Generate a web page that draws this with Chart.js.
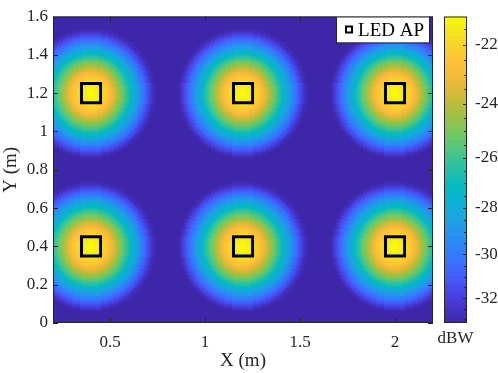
<!DOCTYPE html>
<html><head><meta charset="utf-8">
<script src="https://cdn.jsdelivr.net/npm/chart.js@4.4.1/dist/chart.umd.min.js"></script>
<style>html,body{margin:0;padding:0;background:#fff;}#wrap{width:498px;height:373px;}</style>
</head><body><div id="wrap"><canvas id="c" width="498" height="373"></canvas></div>
<script>
// ---- data ----
const apX = [0.4, 1.2, 2.0];          // LED AP x positions (m)
const apY = [0.4, 1.2];               // LED AP y positions (m)
const profileStep = 0.01;             // m between profile samples
// received power (dBW) vs distance from the nearest AP, 0 .. 0.34 m
const profileDbw = [-21.15,-21.17,-21.22,-21.30,-21.42,-21.57,-21.75,-21.96,-22.20,-22.47,
  -22.76,-23.08,-23.42,-23.78,-24.16,-24.56,-24.97,-25.39,-25.82,-26.26,
  -26.70,-27.15,-27.60,-28.06,-28.52,-28.98,-29.45,-29.92,-30.40,-30.88,
  -31.37,-31.86,-32.35,-32.85,-33.20];
const floorDbw = -33.2;
const xRange = [0.2, 2.2];
const yRange = [0, 1.6];
const gridStep = 0.01;
const xTicks = [0.5, 1, 1.5, 2];
const yTicks = [0, 0.2, 0.4, 0.6, 0.8, 1, 1.2, 1.4, 1.6];
const cbTicks = [-32, -30, -28, -26, -24, -22];
const cbMinor = [-33,-32.5,-31.5,-31,-30.5,-29.5,-29,-28.5,-27.5,-27,-26.5,-25.5,-25,-24.5,-23.5,-23,-22.5,-21.5];
const cbMin = -33.2, cbMax = -21.1;
const legendLabel = 'LED AP';
const cbUnit = 'dBW';
const xTitle = 'X (m)', yTitle = 'Y (m)';

// parula-like colormap stops
const parulaStops = [
 [0.00,62,38,168],[0.05,69,52,201],[0.10,71,70,231],[0.15,68,92,249],[0.20,58,113,254],
 [0.25,45,133,247],[0.30,36,150,235],[0.35,27,165,224],[0.40,10,178,210],[0.45,6,186,191],
 [0.50,36,192,167],[0.55,67,197,139],[0.60,102,200,108],[0.65,140,196,80],[0.70,176,190,60],
 [0.75,212,186,55],[0.80,242,185,60],[0.85,254,192,55],[0.90,250,208,44],[0.95,245,228,30],
 [1.00,249,251,14]];
function parula(t){
  t = Math.max(0, Math.min(1, t));
  for (let i = 1; i < parulaStops.length; i++){
    const a = parulaStops[i-1], b = parulaStops[i];
    if (t <= b[0]){
      const f = (t - a[0]) / (b[0] - a[0]);
      return 'rgb(' + [1,2,3].map(k => Math.round(a[k] + f*(b[k]-a[k]))).join(',') + ')';
    }
  }
  const l = parulaStops[parulaStops.length-1];
  return 'rgb(' + l[1] + ',' + l[2] + ',' + l[3] + ')';
}
// colour axis is logarithmic in |dBW|
const cbU = v => -Math.log(-v);
function colorOf(v){
  return parula((cbU(v) - cbU(cbMin)) / (cbU(cbMax) - cbU(cbMin)));
}

const apPoints = [];
apY.forEach(y => apX.forEach(x => apPoints.push({x, y})));

const heatPoints = [], heatColors = [];
const nx = Math.round((xRange[1]-xRange[0])/gridStep), ny = Math.round((yRange[1]-yRange[0])/gridStep);
for (let j = 0; j <= ny; j++){
  for (let i = 0; i <= nx; i++){
    const x = xRange[0] + i*gridStep, y = yRange[0] + j*gridStep;
    let d = Infinity;
    for (const p of apPoints) d = Math.min(d, Math.hypot(x-p.x, y-p.y));
    const k = Math.round(d / profileStep);
    const v = k < profileDbw.length ? profileDbw[k] : floorDbw;
    if (v <= floorDbw) continue;
    heatPoints.push({x, y}); heatColors.push(colorOf(v));
  }
}

const FONT = "'Liberation Serif','Times New Roman',serif";
const INK = '#262626';

const framePlugin = {
  id: 'frame',
  beforeDatasetsDraw(chart){
    const {ctx, chartArea: a} = chart;
    ctx.save();
    ctx.fillStyle = colorOf(floorDbw);
    ctx.fillRect(a.left, a.top, a.right - a.left, a.bottom - a.top);
    ctx.restore();
  },
  afterDraw(chart){
    const {ctx, chartArea: a, scales} = chart;
    ctx.save();
    ctx.strokeStyle = INK; ctx.lineWidth = 1;
    // axes box
    ctx.strokeRect(a.left + 0.5, a.top + 0.5, a.right - a.left - 1, a.bottom - a.top - 1);
    // inward tick marks
    const tl = 5;
    ctx.beginPath();
    scales.x.ticks.forEach(t => {
      const px = Math.round(scales.x.getPixelForValue(t.value)) + 0.5;
      ctx.moveTo(px, a.bottom); ctx.lineTo(px, a.bottom - tl);
      ctx.moveTo(px, a.top); ctx.lineTo(px, a.top + tl);
    });
    scales.y.ticks.forEach(t => {
      const py = Math.round(scales.y.getPixelForValue(t.value)) + 0.5;
      ctx.moveTo(a.left, py); ctx.lineTo(a.left + tl, py);
      ctx.moveTo(a.right, py); ctx.lineTo(a.right - tl, py);
    });
    ctx.stroke();

    // colorbar
    const cb = scales.cb;
    const cbL = a.right + 11, cbW = 23;
    const top = cb.getPixelForValue(cbU(cbMax)), bot = cb.getPixelForValue(cbU(cbMin));
    const g = ctx.createLinearGradient(0, bot, 0, top);
    parulaStops.forEach(s => g.addColorStop(s[0], 'rgb(' + s[1] + ',' + s[2] + ',' + s[3] + ')'));
    ctx.fillStyle = g;
    ctx.fillRect(cbL, top, cbW, bot - top);
    ctx.strokeStyle = INK;
    ctx.strokeRect(cbL + 0.5, top + 0.5, cbW - 1, bot - top - 1);
    ctx.beginPath();
    cbTicks.forEach(v => {
      const py = Math.round(cb.getPixelForValue(cbU(v))) + 0.5;
      ctx.moveTo(cbL + cbW, py); ctx.lineTo(cbL + cbW - 4, py);
    });
    cbMinor.forEach(v => {
      const py = Math.round(cb.getPixelForValue(cbU(v))) + 0.5;
      ctx.moveTo(cbL + cbW, py); ctx.lineTo(cbL + cbW - 3, py);
    });
    ctx.stroke();
    ctx.fillStyle = INK;
    ctx.font = '17px ' + FONT;
    ctx.textAlign = 'center'; ctx.textBaseline = 'middle';
    ctx.fillText(cbUnit, cbL + cbW/2, a.bottom + 16);

    // legend
    ctx.font = '19px ' + FONT;
    const tw = ctx.measureText(legendLabel).width;
    const bw = tw + 27, bh = 26;
    const bx = a.right - 4 - bw, by = a.top;
    ctx.fillStyle = '#fff';
    ctx.fillRect(bx, by, bw, bh);
    ctx.strokeStyle = INK; ctx.lineWidth = 1;
    ctx.strokeRect(Math.round(bx) + 0.5, by + 0.5, Math.round(bw), bh);
    ctx.lineWidth = 2; ctx.strokeStyle = '#000';
    ctx.strokeRect(Math.round(bx) + 10, by + 10, 6, 6);
    ctx.fillStyle = '#000';
    ctx.textAlign = 'left'; ctx.textBaseline = 'alphabetic';
    ctx.fillText(legendLabel, bx + 22, by + 19);
    ctx.restore();
  }
};

const tickFont = {family: FONT, size: 17};
const titleFont = {family: FONT, size: 19};
const noPad = s => { s.paddingTop = 0; s.paddingBottom = 0; s.paddingLeft = 0; s.paddingRight = 0; };

new Chart(document.getElementById('c').getContext('2d'), {
  type: 'scatter',
  data: {datasets: [
    {label: legendLabel, data: apPoints, pointStyle: 'rect', pointRadius: 13.5, pointBorderWidth: 3,
     pointBorderColor: '#000', pointBackgroundColor: 'rgba(0,0,0,0)', order: 0},
    {label: 'power', data: heatPoints, pointStyle: 'rect', pointRadius: 2.1, pointBorderWidth: 0,
     pointBackgroundColor: heatColors, order: 1}
  ]},
  options: {
    responsive: false, animation: false, events: [],
    layout: {padding: {top: 10, left: 0, right: 0, bottom: 0}},
    plugins: {legend: {display: false}, tooltip: {enabled: false}},
    scales: {
      x: {type: 'linear', min: xRange[0], max: xRange[1],
        afterBuildTicks: s => { s.ticks = xTicks.map(v => ({value: v})); },
        afterFit: s => { s.height = 50; noPad(s); },
        ticks: {callback: v => String(v), font: tickFont, color: INK, padding: 9, maxRotation: 0, autoSkip: false},
        grid: {display: false, drawTicks: false}, border: {display: false},
        title: {display: true, text: xTitle, font: titleFont, color: INK, padding: {top: 0, bottom: 1}}},
      y: {type: 'linear', min: yRange[0], max: yRange[1],
        afterBuildTicks: s => { s.ticks = yTicks.map(v => ({value: v})); },
        afterFit: s => { s.width = 53; noPad(s); },
        ticks: {callback: v => String(v), font: tickFont, color: INK, padding: 5, autoSkip: false},
        grid: {display: false, drawTicks: false}, border: {display: false},
        title: {display: true, text: yTitle, font: titleFont, color: INK, padding: {top: 0, bottom: 0}}},
      cb: {type: 'linear', position: 'right', min: cbU(cbMin), max: cbU(cbMax),
        afterBuildTicks: s => { s.ticks = cbTicks.map(v => ({value: cbU(v)})); },
        afterFit: s => { s.width = 65; noPad(s); },
        ticks: {callback: v => String(Math.round(-Math.exp(-v))), font: tickFont, color: INK, padding: 42, autoSkip: false},
        grid: {display: false, drawTicks: false}, border: {display: false}}
    }
  },
  plugins: [framePlugin]
});
</script></body></html>
